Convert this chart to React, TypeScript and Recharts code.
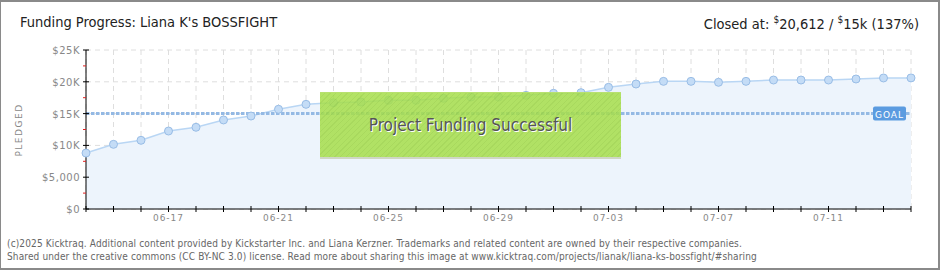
import React from 'react';
import {
  ComposedChart,
  Area,
  XAxis,
  YAxis,
  CartesianGrid,
  ReferenceLine,
} from 'recharts';

// daily pledged totals, 06-14 .. 07-14
const dates = [
  '06-14', '06-15', '06-16', '06-17', '06-18', '06-19', '06-20', '06-21',
  '06-22', '06-23', '06-24', '06-25', '06-26', '06-27', '06-28', '06-29',
  '06-30', '07-01', '07-02', '07-03', '07-04', '07-05', '07-06', '07-07',
  '07-08', '07-09', '07-10', '07-11', '07-12', '07-13', '07-14',
];
const pledged = [
  8800, 10170, 10800, 12260, 12850, 14000, 14620, 15680,
  16460, 16710, 16820, 17090, 17090, 17400, 17610, 17600,
  17870, 18190, 18290, 19130, 19650, 20070, 20070, 19920,
  20070, 20280, 20280, 20280, 20440, 20600, 20612,
];
const labeledDates = ['06-17', '06-21', '06-25', '06-29', '07-03', '07-07', '07-11'];
const yTicks = [0, 2500, 5000, 7500, 10000, 12500, 15000, 17500, 20000, 22500, 25000];
const yLabels: Record<number, string> = {
  0: '$0',
  5000: '$5,000',
  10000: '$10K',
  15000: '$15K',
  20000: '$20K',
  25000: '$25K',
};
const gridValues = [0, 5000, 10000, 15000, 20000, 25000];
const goal = 15000;

const data = dates.map((date, i) => ({ date, value: pledged[i] }));

const axisFont = '"DejaVu Sans", sans-serif';

const XTick = (props: any) => {
  const { x, y, payload } = props;
  const show = labeledDates.includes(payload.value);
  return (
    <g>
      <line x1={x} x2={x} y1={y - 3} y2={y + 3} stroke="#000" />
      {show && (
        <text
          x={x}
          y={y + 12}
          textAnchor="middle"
          fontSize={9}
          letterSpacing={1}
          fill="#888"
          fontFamily={axisFont}
        >
          {payload.value}
        </text>
      )}
    </g>
  );
};

const YTick = (props: any) => {
  const { x, y, payload } = props;
  const label = yLabels[payload.value];
  if (!label) {
    return <line x1={x - 3} x2={x} y1={y} y2={y} stroke="#e02020" />;
  }
  return (
    <g>
      <line x1={x - 3} x2={x + 3} y1={y} y2={y} stroke="#000" />
      <text
        x={x - 6}
        y={y + 4}
        textAnchor="end"
        fontSize={10}
        letterSpacing={0.5}
        fill="#888"
        fontFamily={axisFont}
      >
        {label}
      </text>
    </g>
  );
};

const GoalLabel = (props: any) => {
  const { viewBox } = props;
  const x = viewBox.x + viewBox.width - 38;
  const y = viewBox.y;
  return (
    <g>
      <rect x={x} y={y - 7} width={33} height={14} rx={2} fill="#5b9be0" />
      <text
        x={x + 16.5}
        y={y + 4}
        textAnchor="middle"
        fontSize={9}
        letterSpacing={1}
        fill="#fff"
        fontFamily={axisFont}
      >
        GOAL
      </text>
    </g>
  );
};

export default function App() {
  return (
    <div
      style={{
        position: 'absolute',
        left: 0,
        top: 0,
        width: 940,
        height: 270,
        background: '#fff',
        fontFamily: '"DejaVu Sans Condensed", "DejaVu Sans", sans-serif',
      }}
    >
      <ComposedChart
        width={940}
        height={270}
        data={data}
        margin={{ top: 50, right: 29, bottom: 0, left: 0 }}
      >
        <CartesianGrid
          stroke="#dedede"
          strokeDasharray="5 4"
          horizontalValues={gridValues}
        />
        <XAxis
          xAxisId="gap"
          dataKey="date"
          height={12}
          axisLine={false}
          tickLine={false}
          tick={false}
        />
        <XAxis
          dataKey="date"
          height={49}
          interval={0}
          axisLine={{ stroke: '#000' }}
          tickLine={false}
          tickSize={0}
          tickMargin={0}
          tick={<XTick />}
        />
        <YAxis
          dataKey="value"
          domain={[0, 25000]}
          ticks={yTicks}
          width={76}
          interval={0}
          axisLine={{ stroke: '#000' }}
          tickLine={false}
          tickSize={0}
          tickMargin={0}
          tick={<YTick />}
        />
        <YAxis
          yAxisId="gap"
          width={10}
          axisLine={false}
          tickLine={false}
          tick={false}
        />
        <Area
          type="linear"
          dataKey="value"
          stroke="#b9d6f4"
          strokeWidth={1.5}
          fill="#edf4fc"
          fillOpacity={1}
          dot={{ r: 4, fill: '#c4dcf6', stroke: '#99bde6', strokeWidth: 1 }}
          activeDot={false}
          isAnimationActive={false}
        />
        <ReferenceLine
          y={goal}
          stroke="#94b9e4"
          strokeWidth={3}
          strokeDasharray="3.5 1.5"
          label={<GoalLabel />}
        />
        <text
          x={22}
          y={130}
          transform="rotate(-90 22 130)"
          textAnchor="middle"
          fontSize={9}
          letterSpacing={1.5}
          fill="#888"
          fontFamily={axisFont}
        >
          PLEDGED
        </text>
      </ComposedChart>

      <div
        style={{
          position: 'absolute',
          left: 320,
          top: 92,
          width: 301,
          height: 64,
          background:
            'repeating-linear-gradient(135deg, rgba(166,222,74,0.85) 0px, rgba(166,222,74,0.85) 3px, rgba(156,212,66,0.85) 3px, rgba(156,212,66,0.85) 4px)',
          borderTop: '1px solid #b8e070',
          borderBottom: '2px solid #cfd6c4',
          display: 'flex',
          alignItems: 'center',
          justifyContent: 'center',
          fontSize: 17,
          color: '#555',
          textShadow: '1px 1px 0 #fff',
        }}
      >
        Project Funding Successful
      </div>

      <div
        style={{
          position: 'absolute',
          left: 20,
          top: 14,
          fontSize: 14.5,
          color: '#222',
          whiteSpace: 'nowrap',
        }}
      >
        Funding Progress: Liana K's BOSSFIGHT
      </div>
      <div
        style={{
          position: 'absolute',
          right: 21,
          top: 14,
          fontSize: 14.5,
          color: '#222',
          whiteSpace: 'nowrap',
        }}
      >
        Closed at: <sup style={{ fontSize: 10 }}>$</sup>20,612 / <sup style={{ fontSize: 10 }}>$</sup>15k (137%)
      </div>

      <div
        style={{
          position: 'absolute',
          left: 7,
          top: 237,
          fontSize: 10,
          lineHeight: '13px',
          letterSpacing: 0.13,
          color: '#666',
          fontFamily: '"DejaVu Sans Condensed", sans-serif',
          whiteSpace: 'nowrap',
        }}
      >
        (c)2025 Kicktraq. Additional content provided by Kickstarter Inc. and Liana Kerzner. Trademarks and related content are owned by their respective companies.
        <br />
        Shared under the creative commons (CC BY-NC 3.0) license. Read more about sharing this image at www.kicktraq.com/projects/lianak/liana-ks-bossfight/#sharing
      </div>

      <div
        style={{
          position: 'absolute',
          left: 0,
          top: 0,
          width: 940,
          height: 270,
          boxSizing: 'border-box',
          borderTop: '2px solid #8a8a8a',
          borderLeft: '1px solid #8a8a8a',
          borderRight: '2px solid #8a8a8a',
          borderBottom: '2px solid #8a8a8a',
          pointerEvents: 'none',
        }}
      />
    </div>
  );
}
